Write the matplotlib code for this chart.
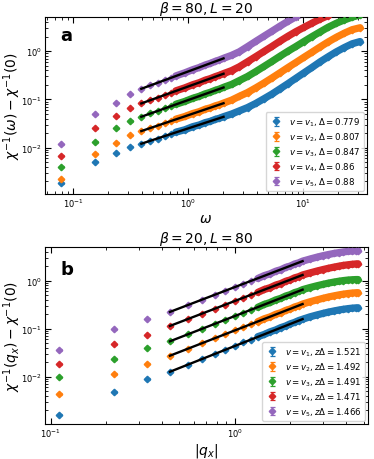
import matplotlib.pyplot as plt
import numpy as np

# ---- panel a: beta = 80, L = 20 ----
omega = [0.0785, 0.157, 0.236, 0.314,
         0.393, 0.471, 0.550, 0.628, 0.707, 0.785, 0.942, 1.10, 1.26, 1.41,
         1.57, 1.73, 1.88, 2.04,
         2.4, 2.8, 3.3, 3.9, 4.6, 5.4, 6.3, 7.4, 8.7, 10.2, 12.0, 14.1, 16.5,
         19.4, 22.8, 26.8, 31.4]

a_v1 = [0.00182, 0.00513, 0.0076, 0.0105,
        0.0121, 0.0141, 0.0155, 0.0176, 0.0189, 0.0210, 0.0236, 0.0273, 0.0297,
        0.0331, 0.0353, 0.0387, 0.0408, 0.0440,
        0.050, 0.058, 0.068, 0.083, 0.104, 0.130, 0.165, 0.212, 0.275, 0.355,
        0.46, 0.60, 0.76, 0.96, 1.18, 1.42, 1.58]
a_v2 = [0.00221, 0.0075, 0.0127, 0.0182,
        0.0221, 0.0258, 0.0287, 0.0326, 0.0352, 0.0390, 0.0444, 0.0511, 0.0561,
        0.0626, 0.0672, 0.0737, 0.0779, 0.0840,
        0.097, 0.116, 0.139, 0.174, 0.220, 0.280, 0.355, 0.456, 0.583, 0.745,
        0.952, 1.22, 1.54, 1.92, 2.34, 2.78, 3.05]
a_v3 = [0.00404, 0.0131, 0.0251, 0.0356,
        0.0438, 0.0514, 0.0579, 0.0657, 0.0716, 0.0794, 0.0912, 0.1055, 0.1165,
        0.1305, 0.1408, 0.1545, 0.1642, 0.1780,
        0.205, 0.246, 0.299, 0.379, 0.484, 0.616, 0.781, 0.994, 1.25, 1.58,
        2.0, 2.5, 3.1, 3.75, 4.4, 5.05, 5.6]
a_v4 = [0.0069, 0.0251, 0.0451, 0.066,
        0.0826, 0.0972, 0.1096, 0.1245, 0.1360, 0.1508, 0.1742, 0.2015, 0.2232,
        0.2500, 0.2705, 0.2968, 0.3171, 0.3430,
        0.396, 0.475, 0.604, 0.773, 0.99, 1.26, 1.60, 2.03, 2.54, 3.1,
        3.8, 4.6, 5.4, 6.5, 7.7, 8.9, 9.9]
a_v5 = [0.0117, 0.0489, 0.0854, 0.127,
        0.166, 0.1962, 0.2218, 0.2525, 0.2768, 0.3070, 0.3566, 0.4130, 0.4595,
        0.5150, 0.5595, 0.6150, 0.6570, 0.7110,
        0.82, 0.97, 1.24, 1.60, 2.05, 2.6, 3.28, 4.14, 5.13, 6.2,
        7.5, 8.9, 10.3, 12.0, 13.5, 15.0, 16.0]
a_delta = [0.779, 0.807, 0.847, 0.86, 0.88]
a_fit_range = (0.393, 2.04)

# ---- panel b: beta = 20, L = 80 ----
qx = [0.111, 0.222, 0.333, 0.444, 0.555, 0.666, 0.777, 0.888, 0.999, 1.11,
      1.221, 1.332, 1.443, 1.554, 1.665, 1.776, 1.887, 1.998, 2.109, 2.22,
      2.331, 2.553, 2.775, 2.997, 3.219, 3.441, 3.663, 3.885, 4.107, 4.329,
      4.551, 4.662]

b_v1 = [0.00162, 0.0048, 0.0090, 0.0127, 0.0178, 0.0238, 0.0295, 0.0368,
        0.0432, 0.0517, 0.0587, 0.0682, 0.0758, 0.0861, 0.0941, 0.1053,
        0.1138, 0.1260, 0.1350, 0.1475, 0.1570,
        0.176, 0.192, 0.207, 0.221, 0.233, 0.244, 0.253, 0.261, 0.267,
        0.271, 0.272]
b_v2 = [0.00436, 0.0114, 0.0187, 0.0274, 0.0386, 0.0497, 0.0637, 0.0764,
        0.0928, 0.1065, 0.1252, 0.1398, 0.1605, 0.1760, 0.1988, 0.2150,
        0.2396, 0.2560, 0.2828, 0.3000, 0.3250,
        0.362, 0.395, 0.426, 0.455, 0.480, 0.503, 0.522, 0.538, 0.550,
        0.558, 0.560]
b_v3 = [0.0097, 0.0234, 0.0400, 0.0546, 0.0770, 0.0990, 0.1270, 0.1520,
        0.1848, 0.2120, 0.2493, 0.2782, 0.3198, 0.3500, 0.3959, 0.4273,
        0.4771, 0.5093, 0.5631, 0.5957, 0.6476,
        0.715, 0.776, 0.832, 0.884, 0.929, 0.968, 1.00, 1.025, 1.04,
        1.05, 1.05]
b_v4 = [0.0184, 0.047, 0.075, 0.114, 0.1599, 0.2050, 0.2623, 0.3128,
        0.3796, 0.4344, 0.5099, 0.5681, 0.6521, 0.7127, 0.8049, 0.8673,
        0.9673, 1.0313, 1.1393, 1.2038, 1.307,
        1.44, 1.57, 1.69, 1.80, 1.90, 1.99, 2.07, 2.13, 2.18,
        2.22, 2.23]
b_v5 = [0.036, 0.097, 0.162, 0.223, 0.3124, 0.4000, 0.5116, 0.6098,
        0.7394, 0.8460, 0.9923, 1.105, 1.268, 1.385, 1.564, 1.685,
        1.879, 2.003, 2.211, 2.336, 2.535,
        2.80, 3.05, 3.28, 3.48, 3.66, 3.81, 3.94, 4.04, 4.12,
        4.18, 4.20]
b_zdelta = [1.521, 1.492, 1.491, 1.471, 1.466]
b_fit_range = (0.444, 2.331)

rel_err = 0.03
colors = ['C0', 'C1', 'C2', 'C3', 'C4']


def draw_panel(ax, x, series, expo, fit_range, band_from, label_fmt):
    x = np.array(x)
    for i, y in enumerate(series):
        y = np.array(y)
        c = colors[i]
        # dense part of the data drawn as a band behind the markers
        ax.plot(x[band_from:], y[band_from:], '-', color=c, lw=5.2,
                solid_capstyle='round', zorder=2)
        ax.errorbar(x, y, yerr=rel_err * y, fmt='D', ms=3.3, color=c,
                    capsize=1.8, elinewidth=0.9, capthick=0.9, zorder=3,
                    label=label_fmt.format(i + 1, expo[i]))
        # power-law fit through the first dense point
        i0 = int(np.argmin(np.abs(x - fit_range[0])))
        xf = np.array(fit_range)
        ax.plot(xf, y[i0] * (xf / x[i0]) ** expo[i], '-', color='k', lw=1.7,
                zorder=4)
    ax.set_xscale('log')
    ax.set_yscale('log')
    ax.tick_params(which='both', direction='in', top=True, right=True,
                   labelsize=6, pad=2)
    ax.tick_params(which='major', length=4)
    ax.tick_params(which='minor', length=2)
    ax.legend(loc='lower right', fontsize=6.2, labelspacing=0.28,
              handlelength=1.6, borderaxespad=0.35, handletextpad=0.7)
    ax.yaxis.set_label_coords(-0.068, 0.5)


fig = plt.figure(figsize=(3.74, 4.6), dpi=100)

ax1 = fig.add_axes([0.120, 0.576, 0.861, 0.385])
draw_panel(ax1, omega, [a_v1, a_v2, a_v3, a_v4, a_v5], a_delta,
           a_fit_range, 9, r'$v=v_{}, \Delta={}$')
ax1.set_xlim(0.057, 36)
ax1.set_ylim(0.0011, 5.1)
ax1.set_title(r'$\beta=80, L=20$', fontsize=10, pad=3)
ax1.set_xlabel(r'$\omega$', fontsize=10, labelpad=1)
ax1.set_ylabel(r'$\chi^{-1}(\omega)-\chi^{-1}(0)$', fontsize=10)
ax1.text(0.067, 0.90, 'a', transform=ax1.transAxes, fontsize=13,
         fontweight='bold', ha='center', va='center')

ax2 = fig.add_axes([0.120, 0.076, 0.864, 0.385])
draw_panel(ax2, qx, [b_v1, b_v2, b_v3, b_v4, b_v5], b_zdelta,
           b_fit_range, 11, r'$v=v_{}, z\Delta={}$')
ax2.set_xlim(0.093, 5.28)
ax2.set_ylim(0.00104, 5.0)
ax2.set_title(r'$\beta=20, L=80$', fontsize=10, pad=3)
ax2.set_xlabel(r'$|q_x|$', fontsize=10, labelpad=1)
ax2.set_ylabel(r'$\chi^{-1}(q_x)-\chi^{-1}(0)$', fontsize=10)
ax2.text(0.067, 0.875, 'b', transform=ax2.transAxes, fontsize=13,
         fontweight='bold', ha='center', va='center')

fig.savefig('out.png', dpi=100)
